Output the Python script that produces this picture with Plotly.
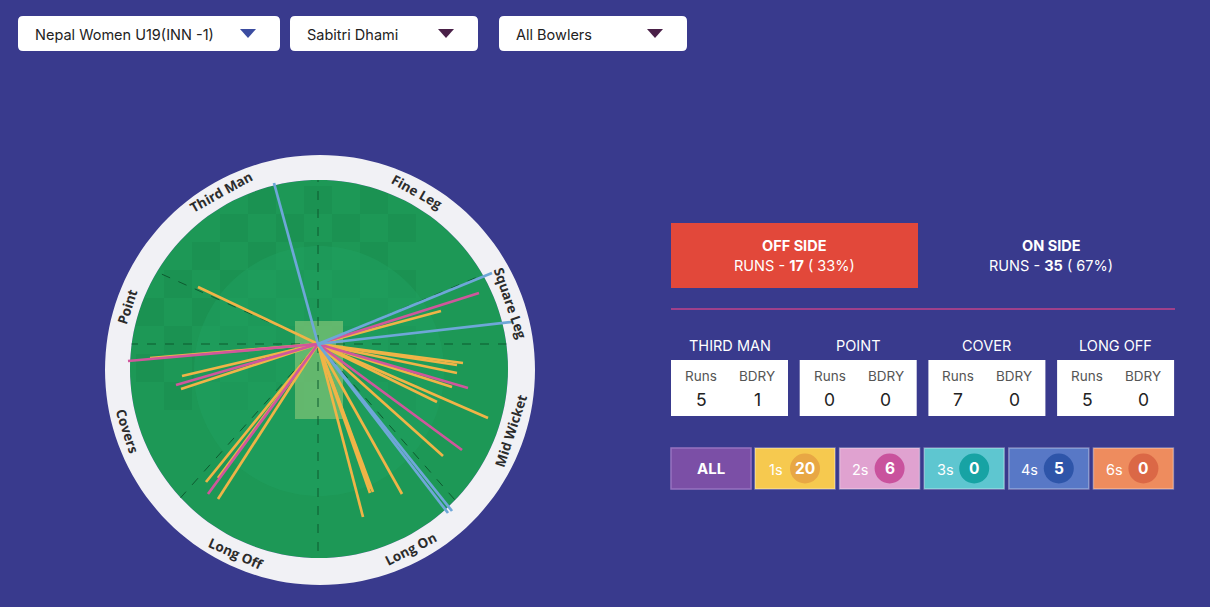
import math
import plotly.graph_objects as go

W, H = 1210, 607
BG = "#393a8d"

# dropdown selections
dropdown_texts = ["Nepal Women U19(INN -1)", "Sabitri Dhami", "All Bowlers"]

# wagon wheel: where each shot ended, offset from the batter (px, right + / down +)
ones_dx = [-120, 123, -168, -136, -137, 145, 139, 139, 134, 119, 170, 125, 84, 55, 52, 53, 45, -112, -100, -100]
ones_dy = [-57, -33, 14, 32, 45, 19, 21, 29, 43, 58, 74, 112, 150, 148, 149, 145, 173, 138, 134, 155]
twos_dx = [161, -190, -142, 150, 144, -110]
twos_dy = [-51, 17, 41, 44, 106, 150]
fours_dx = [-44, 174, 194, 130, 134]
fours_dy = [-161, -71, -22, 169, 167]

zone_labels = ["Third Man", "Fine Leg", "Square Leg", "Mid Wicket", "Long On", "Long Off", "Covers", "Point"]
zone_angles = [-29, 29, 71, 108, 153, 204, 252, -72]

side_names = ["OFF SIDE", "ON SIDE"]
side_runs = [17, 35]
side_pct = [33, 67]

region_names = ["THIRD MAN", "POINT", "COVER", "LONG OFF"]
region_runs = [5, 0, 7, 5]
region_bdry = [1, 0, 0, 0]

run_types = ["1s", "2s", "3s", "4s", "6s"]
run_counts = [20, 6, 0, 5, 0]
run_fill = ["#f6c94f", "#e0a2d0", "#5ec6d0", "#5878c6", "#ee8c5e"]
run_dot = ["#e8a744", "#c9529d", "#17a3a4", "#2e55a9", "#db6846"]

# field geometry
CX, CY = 319, 369      # ground centre
R_OUT, R_FIELD, R_IN = 215, 189, 125
BX, BY = 318, 344      # batter


def circle_pts(cx, cy, r, n=160, rev=False):
    pts = [(cx + r * math.cos(2 * math.pi * k / n), cy + r * math.sin(2 * math.pi * k / n)) for k in range(n)]
    return pts[::-1] if rev else pts


def poly(pts):
    return "M" + " L".join(f"{x:.1f},{y:.1f}" for x, y in pts) + " Z"


def rrect(x0, y0, x1, y1, r=5):
    return (f"M{x0+r},{y0} L{x1-r},{y0} Q{x1},{y0} {x1},{y0+r} L{x1},{y1-r} Q{x1},{y1} {x1-r},{y1} "
            f"L{x0+r},{y1} Q{x0},{y1} {x0},{y1-r} L{x0},{y0+r} Q{x0},{y0} {x0+r},{y0} Z")


def ray_to_edge(dx, dy):
    # from batter along (dx,dy) to the boundary circle
    n = math.hypot(dx, dy)
    ux, uy = dx / n, dy / n
    ox, oy = BX - CX, BY - CY
    b = ox * ux + oy * uy
    c = ox * ox + oy * oy - R_FIELD ** 2
    t = -b + math.sqrt(b * b - c)
    return BX + ux * t, BY + uy * t


shapes = []
ann = []

# ground
shapes.append(dict(type="path", path=poly(circle_pts(CX, CY, R_FIELD)), fillcolor="#1d9856", line_width=0, layer="below"))
sq = 28
for i in range(-8, 8):
    for j in range(-8, 8):
        if (i + j) % 2:
            continue
        x0, y0 = 192 + i * sq, 186 + j * sq
        corners = [(x0, y0), (x0 + sq, y0), (x0, y0 + sq), (x0 + sq, y0 + sq)]
        if all(math.hypot(x - CX, y - CY) < R_OUT - 2 for x, y in corners):
            shapes.append(dict(type="rect", x0=x0, y0=y0, x1=x0 + sq, y1=y0 + sq,
                               fillcolor="#0f6e3a", opacity=0.12, line_width=0, layer="below"))
shapes.append(dict(type="path", path=poly(circle_pts(CX, CY + 2, R_IN)), fillcolor="#22a261", opacity=0.45, line_width=0, layer="below"))
shapes.append(dict(type="rect", x0=295, y0=321, x1=343, y1=419, fillcolor="#9ccf7e", opacity=0.55, line_width=0, layer="below"))
# white ring
ring = poly(circle_pts(CX + 1, CY + 1, R_OUT)) + " " + poly(circle_pts(CX, CY, R_FIELD, rev=True))
shapes.append(dict(type="path", path=ring, fillcolor="#f1f1f5", line_width=0, layer="below"))

# zone dividers
dash = dict(color="#0d5a2f", width=1, dash="dash")
for dx, dy in [(0, -1), (0, 1), (-1, 0), (1, 0), (-161, -72), (169, -71), (-135, 151), (137, 156)]:
    ex, ey = ray_to_edge(dx, dy)
    shapes.append(dict(type="line", x0=BX, y0=BY, x1=ex, y1=ey, line=dash, layer="below"))

# zone labels round the ring
R_LAB = 202
for name, a in zip(zone_labels, zone_angles):
    rad = math.radians(a)
    ta = a if -90 <= a <= 90 else a - 180
    ann.append(dict(x=CX + R_LAB * math.sin(rad), y=CY - R_LAB * math.cos(rad), text=f"<b>{name}</b>",
                    textangle=ta, showarrow=False, font=dict(family="Open Sans", size=13.5, color="#2b2b2b")))

fig = go.Figure()


def shot_trace(dxs, dys, color, name):
    xs, ys = [], []
    for dx, dy in zip(dxs, dys):
        xs += [BX, BX + dx, None]
        ys += [BY, BY + dy, None]
    fig.add_trace(go.Scatter(x=xs, y=ys, mode="lines", name=name, line=dict(color=color, width=2.7),
                             hoverinfo="skip", showlegend=False))


shot_trace(ones_dx, ones_dy, "#f0b447", "1s")
shot_trace(twos_dx, twos_dy, "#d0579c", "2s")
shot_trace(fours_dx, fours_dy, "#6ea7d8", "4s")

# dropdowns
dd_x0 = [18, 290, 499]
dd_x1 = [280, 478, 687]
tri_col = ["#3b4ca0", "#4a2048", "#4a2048"]
for txt, x0, x1, tc in zip(dropdown_texts, dd_x0, dd_x1, tri_col):
    shapes.append(dict(type="path", path=rrect(x0, 16, x1, 51), fillcolor="white", line_width=0))
    ann.append(dict(x=x0 + 15, y=34, text=txt, xanchor="left", showarrow=False,
                    font=dict(family="Inter", size=14.5, color="#222")))
    tx = x1 - 32
    shapes.append(dict(type="path", path=f"M{tx-8},29 L{tx+8},29 L{tx},38 Z", fillcolor=tc, line_width=0))

# off / on side
shapes.append(dict(type="rect", x0=671, y0=223, x1=918, y1=288, fillcolor="#e2483a", line_width=0))
for name, runs, pct, cx in zip(side_names, side_runs, side_pct, [794.5, 1051]):
    ann.append(dict(x=cx, y=245, text=f"<b>{name}</b>", showarrow=False,
                    font=dict(family="Inter", size=14.5, color="white")))
    ann.append(dict(x=cx, y=265, text=f"RUNS - <b>{runs}</b> ( {pct}%)", showarrow=False,
                    font=dict(family="Inter", size=14.5, color="white")))
shapes.append(dict(type="line", x0=671, y0=309, x1=1175, y1=309, line=dict(color="#a0408a", width=2)))

# off side regions
for k, (name, runs, bdry) in enumerate(zip(region_names, region_runs, region_bdry)):
    x0 = 671 + k * 128.7
    shapes.append(dict(type="rect", x0=x0, y0=360, x1=x0 + 117, y1=416, fillcolor="white", line_width=0))
    ann.append(dict(x=x0 + 58.5, y=345, text=name, showarrow=False,
                    font=dict(family="Inter", size=14.5, color="white")))
    for dx, head, val in [(30, "Runs", runs), (86, "BDRY", bdry)]:
        ann.append(dict(x=x0 + dx, y=376, text=head, showarrow=False,
                        font=dict(family="Inter", size=13.5, color="#555")))
        ann.append(dict(x=x0 + dx, y=399, text=str(val), showarrow=False,
                        font=dict(family="Inter", size=17.5, color="#222")))

# run type buttons
shapes.append(dict(type="rect", x0=671, y0=448, x1=751, y1=489, fillcolor="#7b4fa6", line=dict(color="#9673c0", width=1.5)))
ann.append(dict(x=711, y=468.5, text="<b>ALL</b>", showarrow=False, font=dict(family="Inter", size=15, color="white")))
for k, (lab, cnt, fc, dc) in enumerate(zip(run_types, run_counts, run_fill, run_dot)):
    x0 = 755 + k * 84.6
    shapes.append(dict(type="rect", x0=x0, y0=448, x1=x0 + 80, y1=489, fillcolor=fc,
                       line=dict(color="rgba(255,255,255,0.35)", width=1.5)))
    shapes.append(dict(type="circle", x0=x0 + 35, y0=453.5, x1=x0 + 65, y1=483.5, fillcolor=dc, line_width=0))
    ann.append(dict(x=x0 + 21, y=469, text=lab, showarrow=False, font=dict(family="Inter", size=14.5, color="white")))
    ann.append(dict(x=x0 + 50, y=468.5, text=f"<b>{cnt}</b>", showarrow=False, font=dict(family="Inter", size=15.5, color="white")))

fig.update_layout(
    width=W, height=H, margin=dict(l=0, r=0, t=0, b=0),
    paper_bgcolor=BG, plot_bgcolor=BG,
    xaxis=dict(range=[0, W], visible=False, fixedrange=True),
    yaxis=dict(range=[H, 0], visible=False, fixedrange=True),
    shapes=shapes, annotations=ann, showlegend=False,
)

fig.write_html("out.html", config={"displayModeBar": False},
               post_script="document.body.style.margin='0';document.body.style.background='%s';" % BG)
